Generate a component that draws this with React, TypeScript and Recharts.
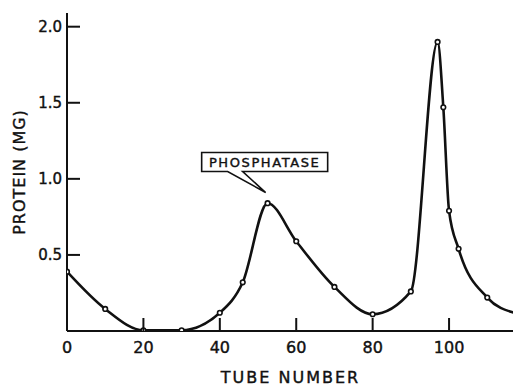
import React from "react";
import {
  ComposedChart,
  Line,
  Scatter,
  XAxis,
  YAxis,
  ReferenceDot,
} from "recharts";

// tubes where protein was measured (the open circles)
const tubes = [0, 10, 20, 30, 40, 46, 52.5, 60, 70, 80, 90, 97, 98.5, 100, 102.5, 110];
const protein = [0.39, 0.145, 0.005, 0.005, 0.12, 0.32, 0.84, 0.59, 0.29, 0.11, 0.26, 1.9, 1.47, 0.79, 0.54, 0.22];

// where the drawn curve runs out of the frame on the right
const curveEndTube = 117;
const curveEndProtein = 0.12;

const xTicks = [0, 20, 40, 60, 80, 100];
const yTicks = [0.5, 1, 1.5, 2];

const X_MAX = 117;
const Y_MAX = 2.09;

const points = tubes.map((t, i) => ({ tube: t, protein: protein[i] }));
const curve = [...points, { tube: curveEndTube, protein: curveEndProtein }];

const FONT = "DejaVu Sans, sans-serif";
const INK = "#111";
// a thin outline makes the lettering as heavy as the printed figure
const heavy = { stroke: INK, strokeWidth: 0.4 };

function XTick(props: any) {
  const { x, y, payload } = props;
  return (
    <g>
      <line x1={x} y1={y} x2={x} y2={y - 13} stroke={INK} strokeWidth={2} />
      <text x={x} y={y + 22} textAnchor="middle" fontSize={16} fill={INK} fontFamily={FONT} {...heavy}>
        {payload.value}
      </text>
    </g>
  );
}

function YTick(props: any) {
  const { x, y, payload } = props;
  return (
    <g>
      <line x1={x} y1={y} x2={x + 13} y2={y} stroke={INK} strokeWidth={2} />
      <text x={x - 5} y={y + 5.5} textAnchor="end" fontSize={15} fill={INK} fontFamily={FONT} {...heavy}>
        {Number(payload.value).toFixed(1)}
      </text>
    </g>
  );
}

function RightTick(props: any) {
  const { x, y } = props;
  return <line x1={x - 11} y1={y} x2={x} y2={y} stroke={INK} strokeWidth={2} />;
}

function Callout(props: any) {
  const { cx, cy } = props;
  const left = cx - 64;
  const right = cx + 62;
  const top = cy - 40;
  const bottom = cy - 21;
  const d = `M${left},${top} L${right},${top} L${right},${bottom} L${cx - 23},${bottom} L${cx},${cy} L${cx - 38},${bottom} L${left},${bottom} Z`;
  return (
    <g>
      <path d={d} fill="#fff" stroke={INK} strokeWidth={1.6} strokeLinejoin="miter" />
      <text
        x={(left + right) / 2}
        y={bottom - 5}
        textAnchor="middle"
        fontSize={13}
        letterSpacing={1.6}
        fill={INK}
        fontFamily={FONT}
        {...heavy}
      >
        PHOSPHATASE
      </text>
    </g>
  );
}

function Dot(props: any) {
  const { cx, cy } = props;
  return <circle cx={cx} cy={cy} r={2.3} fill="#fff" stroke={INK} strokeWidth={1.6} />;
}

export default function App() {
  return (
    <div
      style={{
        position: "absolute",
        left: 0,
        top: 0,
        width: 513,
        height: 386,
        overflow: "hidden",
        background: "#fff",
      }}
    >
      <ComposedChart
        width={515}
        height={386}
        margin={{ top: 13, right: 0, bottom: 0, left: 0 }}
        style={{ fontFamily: FONT }}
      >
        <XAxis
          dataKey="tube"
          type="number"
          domain={[0, X_MAX]}
          ticks={xTicks}
          height={55}
          tickSize={0}
          tickMargin={0}
          tickLine={false}
          axisLine={{ stroke: INK, strokeWidth: 2 }}
          tick={(p: any) => <XTick {...p} />}
          allowDataOverflow
          label={{
            content: (p: any) => {
              const vb = p.viewBox;
              return (
                <text
                  x={vb.x + vb.width / 2}
                  y={vb.y + 52}
                  textAnchor="middle"
                  fontSize={16}
                  letterSpacing={2}
                  fill={INK}
                  fontFamily={FONT}
                  {...heavy}
                >
                  TUBE NUMBER
                </text>
              );
            },
          }}
        />
        <XAxis
          xAxisId="top"
          orientation="top"
          type="number"
          domain={[0, X_MAX]}
          height={0}
          tick={false}
          tickLine={false}
          axisLine={{ stroke: INK, strokeWidth: 2 }}
        />
        <YAxis
          type="number"
          domain={[0, Y_MAX]}
          ticks={yTicks}
          width={67}
          tickSize={0}
          tickMargin={0}
          tickLine={false}
          axisLine={{ stroke: INK, strokeWidth: 2 }}
          tick={(p: any) => <YTick {...p} />}
          allowDataOverflow
          label={{
            content: (p: any) => {
              const vb = p.viewBox;
              const cy = vb.y + vb.height / 2;
              return (
                <text
                  x={25}
                  y={cy}
                  transform={`rotate(-90 25 ${cy})`}
                  textAnchor="middle"
                  fontSize={16}
                  letterSpacing={1}
                  fill={INK}
                  fontFamily={FONT}
                  {...heavy}
                >
                  PROTEIN (MG)
                </text>
              );
            },
          }}
        />
        <YAxis
          yAxisId="right"
          orientation="right"
          type="number"
          domain={[0, Y_MAX]}
          ticks={yTicks}
          width={1}
          tickSize={0}
          tickMargin={0}
          tickLine={false}
          axisLine={{ stroke: INK, strokeWidth: 2 }}
          tick={(p: any) => <RightTick {...p} />}
        />
        <Line
          data={curve}
          dataKey="protein"
          type="monotone"
          stroke={INK}
          strokeWidth={2.6}
          dot={false}
          activeDot={false}
          isAnimationActive={false}
        />
        <Scatter
          data={points}
          dataKey="protein"
          shape={(p: any) => <Dot {...p} />}
          isAnimationActive={false}
        />
        <ReferenceDot
          x={52}
          y={0.91}
          r={0}
          ifOverflow="visible"
          shape={(p: any) => <Callout {...p} />}
        />
      </ComposedChart>
    </div>
  );
}
